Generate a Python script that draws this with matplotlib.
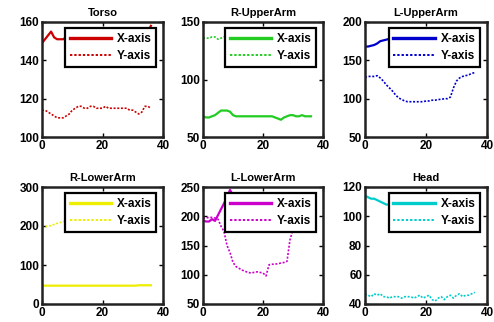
import matplotlib
matplotlib.use("Agg")
import matplotlib.pyplot as plt

plt.rcParams['font.family'] = ['Liberation Sans', 'DejaVu Sans']

frames = list(range(37))
titles = ["Torso", "R-UpperArm", "L-UpperArm", "R-LowerArm", "L-LowerArm", "Head"]
series_labels = ["X-axis", "Y-axis"]

torso_x = [149, 151, 153, 155, 152, 151, 151, 151, 152, 152, 152, 153, 153, 153, 152, 152,
           153, 153, 154, 154, 154, 153, 153, 154, 154, 155, 155, 154, 154, 155, 155, 155,
           155, 154, 155, 155, 158]
torso_y = [114, 114, 113, 112, 111, 110, 110, 110, 111, 112, 114, 115, 116, 116, 115, 115,
           116, 116, 115, 115, 115, 116, 115, 115, 115, 115, 115, 115, 115, 114, 114, 113,
           112, 113, 116, 116, 115]

rupper_x = [68, 67, 67, 68, 69, 71, 73, 73, 73, 72, 69, 68, 68, 68, 68, 68, 68, 68, 68, 68,
            68, 68, 68, 68, 67, 66, 65, 67, 68, 69, 69, 68, 68, 69, 68, 68, 68]
rupper_y = [136, 136, 136, 137, 137, 135, 136, 137, 138, 139, 140, 140, 141, 141, 142, 142,
            141, 141, 140, 140, 139, 139, 138, 138, 138, 137, 137, 137, 136, 136, 136, 135,
            135, 135, 135, 135, 135]

lupper_x = [168, 168, 169, 170, 172, 175, 176, 177, 178, 178, 179, 180, 180, 181, 181, 182,
            182, 182, 183, 183, 183, 184, 184, 184, 184, 185, 185, 185, 185, 184, 184, 184,
            183, 183, 183, 183, 183]
lupper_y = [128, 129, 129, 129, 130, 127, 123, 118, 114, 110, 105, 101, 99, 97, 96, 96,
            96, 96, 96, 96, 97, 97, 98, 98, 99, 99, 100, 100, 102, 114, 123, 127, 129, 130,
            131, 133, 134]

rlower_x = [47, 47, 47, 47, 47, 47, 47, 47, 47, 47, 47, 47, 47, 47, 47, 47, 47, 47, 47, 47,
            47, 47, 47, 47, 47, 47, 47, 47, 47, 47, 47, 47, 48, 48, 48, 48, 48]
rlower_y = [196, 198, 200, 201, 204, 207, 209, 211, 213, 215, 216, 218, 219, 220, 221, 222,
            222, 223, 223, 224, 224, 224, 225, 225, 225, 225, 225, 224, 224, 224, 223, 223,
            222, 222, 222, 221, 221]

llower_x = [193, 191, 191, 195, 192, 202, 212, 222, 232, 245, 236, 235, 232, 230, 228, 226,
            225, 224, 223, 222, 222, 221, 220, 220, 219, 219, 218, 218, 217, 217, 216, 216,
            215, 215, 214, 214, 214]
llower_y = [197, 197, 198, 198, 197, 195, 183, 174, 150, 138, 121, 114, 111, 108, 106, 104,
            103, 104, 105, 104, 103, 98, 117, 118, 118, 119, 120, 121, 123, 160, 177, 195,
            205, 212, 216, 218, 220]

head_x = [114, 113, 112, 112, 111, 110, 109, 108, 108, 107, 107, 106, 106, 106, 105, 105,
          105, 105, 104, 104, 104, 104, 104, 104, 103, 103, 103, 103, 103, 103, 103, 103,
          103, 103, 103, 103, 103]
head_y = [47, 46, 45, 47, 46, 47, 45, 45, 44, 45, 45, 45, 44, 45, 45, 45, 44, 45, 46, 44,
          45, 46, 43, 42, 44, 45, 43, 45, 46, 44, 46, 47, 45, 46, 46, 47, 48]

x_series = [torso_x, rupper_x, lupper_x, rlower_x, llower_x, head_x]
y_series = [torso_y, rupper_y, lupper_y, rlower_y, llower_y, head_y]
colors = ['#cc0000', '#22cc22', '#0000cc', '#eeee00', '#cc00cc', '#00cccc']
ylims = [(100, 160), (50, 150), (50, 200), (0, 300), (50, 250), (40, 120)]
ysteps = [20, 50, 50, 100, 50, 20]

W, H = 494, 322
fig = plt.figure(figsize=(W / 100, H / 100), dpi=100)
cols = [(42, 163), (203, 323), (365, 487)]
rows = [(22, 137), (187, 304)]

for i in range(6):
    r, c = divmod(i, 3)
    x0, x1 = cols[c]
    y0, y1 = rows[r]
    ax = fig.add_axes([x0 / W, 1 - y1 / H, (x1 - x0) / W, (y1 - y0) / H])
    ax.plot(frames, x_series[i], color=colors[i], lw=1.6, ls='-', label=series_labels[0])
    ax.plot(frames, y_series[i], color=colors[i], lw=1.2, ls=(0, (1.2, 1.0)),
            label=series_labels[1])
    lo, hi = ylims[i]
    ax.set_xlim(0, 40)
    ax.set_ylim(lo, hi)
    ax.set_xticks([0, 20, 40])
    ax.set_yticks(list(range(lo, hi + 1, ysteps[i])))
    ax.tick_params(direction='in', top=True, right=True, length=3, width=1,
                   labelsize=8.5, pad=2)
    for lab in ax.get_xticklabels() + ax.get_yticklabels():
        lab.set_fontweight('bold')
    for sp in ax.spines.values():
        sp.set_linewidth(1.8)
        sp.set_color('#222222')
    ax.set_title(titles[i], fontsize=8, fontweight='bold', pad=4)
    leg = ax.legend(loc='upper right', bbox_to_anchor=(0.945, 0.948),
                    prop={'weight': 'bold', 'size': 8.5},
                    handlelength=3.5, handletextpad=0.5, labelspacing=0.45,
                    borderpad=0.4, borderaxespad=0.0, fancybox=False,
                    framealpha=1.0, edgecolor='black')
    leg.get_frame().set_linewidth(1.6)
    lines = leg.get_lines()
    lines[0].set_linewidth(2.4)
    lines[1].set_linewidth(1.4)

fig.savefig("out.png", dpi=100, facecolor='white')
